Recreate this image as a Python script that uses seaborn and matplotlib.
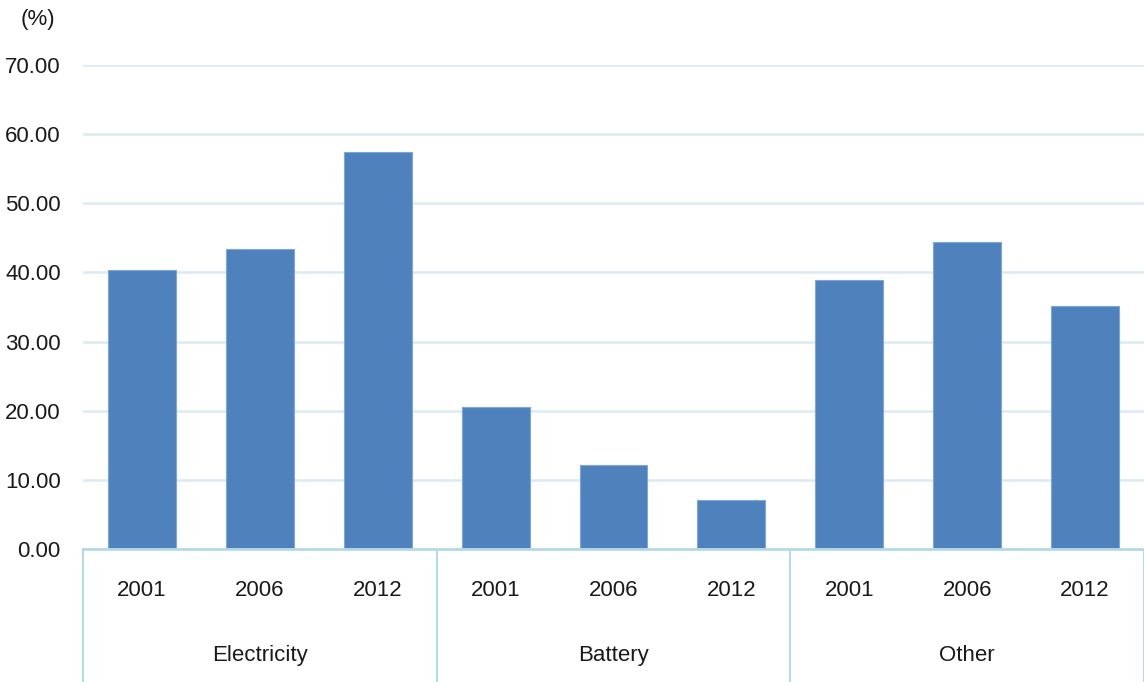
import matplotlib
matplotlib.use('Agg')
import matplotlib.pyplot as plt
import seaborn as sns
import pandas as pd

# data
groups = ['Electricity', 'Battery', 'Other']
years = ['2001', '2006', '2012']
electricity = [40.36, 43.35, 57.46]
battery = [20.56, 12.18, 7.08]
other = [38.87, 44.36, 35.20]

BAR_COLOR = '#4F81BD'
GRID_COLOR = '#DAEBF3'
AXIS_COLOR = '#B5DAE7'
TEXT_COLOR = '#1a1a1a'
FS = 16


def main() -> None:
    rows = []
    for g, vals in zip(groups, [electricity, battery, other]):
        for y, v in zip(years, vals):
            rows.append({'group': g, 'year': y, 'key': f'{g} {y}', 'value': v})
    df = pd.DataFrame(rows)

    sns.set_style('white')
    plt.rcParams['font.family'] = ['Liberation Sans', 'DejaVu Sans']

    fig = plt.figure(figsize=(11.44, 6.82), dpi=100)
    ax = fig.add_axes([83 / 1144, 1 - 549 / 682, 1 - 83 / 1144, 484 / 682])

    sns.barplot(data=df, x='key', y='value', order=list(df['key']), color=BAR_COLOR,
                width=0.575, saturation=1, edgecolor='#7FA6D6', linewidth=0.8, ax=ax)

    ax.set_ylim(0, 70)
    ax.set_xlim(-0.5, len(df) - 0.5)
    ax.set_yticks(range(0, 71, 10))
    ax.set_yticklabels([f'{t:.2f}' for t in range(0, 71, 10)], fontsize=FS, color=TEXT_COLOR)
    ax.yaxis.grid(True, color=GRID_COLOR, linewidth=1.8)
    ax.set_axisbelow(True)
    ax.tick_params(axis='y', length=0, pad=16)

    ax.set_xticks(range(len(df)))
    ax.set_xticklabels(list(df['year']), fontsize=FS, color=TEXT_COLOR)
    ax.tick_params(axis='x', length=0, pad=22)
    ax.set_xlabel('')
    ax.set_ylabel('')

    for s in ['top', 'right', 'left']:
        ax.spines[s].set_visible(False)
    ax.spines['bottom'].set_color(AXIS_COLOR)
    ax.spines['bottom'].set_linewidth(2)

    # second level of the category axis
    trans = ax.get_xaxis_transform()
    n = len(years)
    for i, g in enumerate(groups):
        ax.text(i * n + (n - 1) / 2, -0.221, g, transform=trans, ha='center', va='center',
                fontsize=FS, color=TEXT_COLOR)
    for i in range(len(groups) + 1):
        ax.plot([i * n - 0.5, i * n - 0.5], [0, -0.275], transform=trans, color=AXIS_COLOR,
                linewidth=1.5, clip_on=False)

    fig.text(38 / 1144, 1 - 20 / 682, '(%)', ha='center', va='center', fontsize=FS, color=TEXT_COLOR)

    fig.savefig('out.png', dpi=100)


if __name__ == '__main__':
    main()
